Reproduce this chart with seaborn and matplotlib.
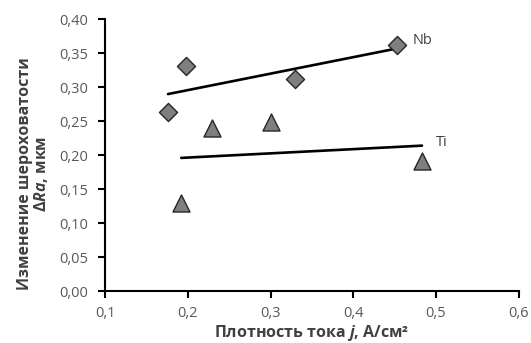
import matplotlib
matplotlib.use("Agg")
import matplotlib.pyplot as plt
import seaborn as sns
import pandas as pd
from matplotlib.ticker import FuncFormatter, MultipleLocator

# Data
nb_x = [0.176, 0.198, 0.329, 0.453]
nb_y = [0.263, 0.331, 0.312, 0.362]
ti_x = [0.192, 0.229, 0.301, 0.483]
ti_y = [0.130, 0.240, 0.249, 0.191]
series_labels = ["Nb", "Ti"]

sns.set_theme(style="white")
plt.rcParams['font.family'] = ['Open Sans', 'DejaVu Sans']
plt.rcParams['mathtext.fontset'] = 'custom'
plt.rcParams['mathtext.it'] = 'Open Sans:italic:bold'
plt.rcParams['mathtext.rm'] = 'Open Sans:bold'

text_c = '#404040'
fig = plt.figure(figsize=(5.31, 3.43), dpi=100)
ax = fig.add_axes([0.198, 0.1516, 0.779, 0.793])

nb = pd.DataFrame({'x': nb_x, 'y': nb_y})
ti = pd.DataFrame({'x': ti_x, 'y': ti_y})

sns.regplot(data=nb, x='x', y='y', ci=None, scatter=False, ax=ax,
            line_kws=dict(color='black', lw=1.9))
sns.regplot(data=ti, x='x', y='y', ci=None, scatter=False, ax=ax,
            line_kws=dict(color='black', lw=1.9))
sns.scatterplot(data=nb, x='x', y='y', marker='D', s=85, color='#7f7f7f',
                edgecolor='#262626', linewidth=1.0, ax=ax, zorder=3)
sns.scatterplot(data=ti, x='x', y='y', marker='^', s=150, color='#7f7f7f',
                edgecolor='#262626', linewidth=1.0, ax=ax, zorder=3)

ax.text(0.472, 0.369, series_labels[0], color=text_c, fontsize=10.5, va='center', ha='left')
ax.text(0.500, 0.218, series_labels[1], color=text_c, fontsize=10.5, va='center', ha='left')

ax.set_xlim(0.1, 0.6)
ax.set_ylim(0.0, 0.40)
ax.xaxis.set_major_locator(MultipleLocator(0.1))
ax.yaxis.set_major_locator(MultipleLocator(0.05))
ax.xaxis.set_major_formatter(FuncFormatter(lambda v, p: f"{v:.1f}".replace('.', ',')))
ax.yaxis.set_major_formatter(FuncFormatter(lambda v, p: f"{v:.2f}".replace('.', ',')))

for s in ['top', 'right']:
    ax.spines[s].set_visible(False)
for s in ['left', 'bottom']:
    ax.spines[s].set_color('black')
    ax.spines[s].set_linewidth(1.5)
ax.tick_params(axis='both', which='major', direction='out', length=5, width=1.5,
               color='black', labelcolor='#595959', labelsize=10.5,
               left=True, bottom=True)
ax.tick_params(axis='y', pad=7)
ax.tick_params(axis='x', pad=6)

ax.set_xlabel("Плотность тока $\\mathit{j}$, А/см²", fontsize=11.5, fontweight='bold',
              color=text_c, labelpad=1)
ax.set_ylabel("Изменение шероховатости\n$\\mathit{ΔRa}$, мкм", fontsize=11.5,
              fontweight='bold', color=text_c, linespacing=0.95)
ax.yaxis.set_label_coords(-0.133, 0.43)

fig.savefig("out.png", dpi=100, facecolor='white')
